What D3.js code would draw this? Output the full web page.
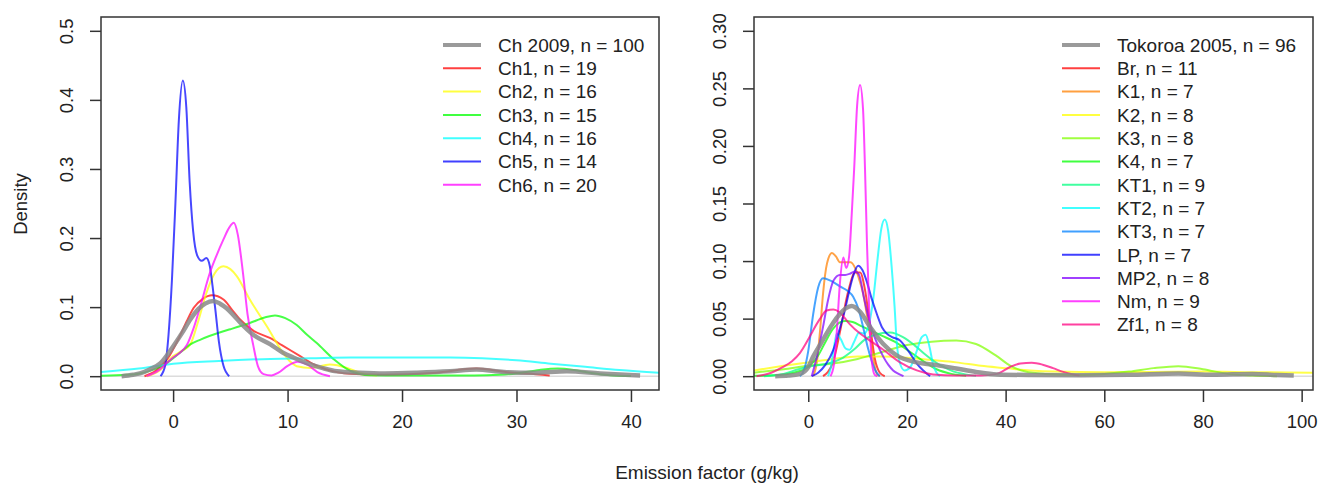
<!DOCTYPE html>
<html>
<head>
<meta charset="utf-8">
<script src="https://cdn.jsdelivr.net/npm/d3@7"></script>
<style>
  body { margin: 0; background: #fff; }
  text { font-family: "Liberation Sans", Arial, sans-serif; fill: #222; }
</style>
</head>
<body>
<script>
// density curves, [x, density]

// left panel: Ch 2009 groups
let ch2009 = [[-4.5,0],[-3.5,0.002],[-2.9,0.004],[-2,0.01],[-1.1,0.019],[0,0.043],[0.8,0.063],[1.5,0.082],[2.2,0.097],[2.8,0.105],[3.5,0.109],[4.1,0.105],[4.7,0.098],[5.3,0.088],[5.9,0.077],[7,0.06],[8.5,0.046],[9.6,0.034],[10.5,0.027],[12,0.017],[13,0.012],[14.3,0.007],[16.3,0.005],[18.5,0.004],[21.3,0.005],[24.2,0.007],[26.5,0.0097],[28.9,0.006],[31.5,0.005],[34.4,0.007],[37.3,0.004],[40.8,0.001]];
let ch1 = [[-2.5,0],[-1.5,0.008],[-0.5,0.025],[0.5,0.055],[1.2,0.08],[1.8,0.099],[2.6,0.112],[3.4,0.117],[4.4,0.111],[5.2,0.095],[5.85,0.082],[7,0.066],[8.5,0.055],[9.5,0.045],[11.1,0.029],[12.3,0.017],[13.4,0.0097],[15.5,0.0035],[18.4,0.002],[22.7,0.0045],[26.5,0.011],[29.4,0.0055],[32.3,0.002],[32.9,0.001]];
let ch2 = [[-2.3,0],[-1.2,0.008],[0,0.029],[0.8,0.037],[1.5,0.046],[2.2,0.08],[2.9,0.12],[3.6,0.148],[4.4,0.159],[5,0.155],[5.56,0.145],[6.7,0.111],[8.2,0.072],[9.6,0.034],[10.3,0.02],[10.8,0.0145],[12,0.012],[13.7,0.017],[15.2,0.012],[16.3,0.005],[17.8,0.001]];
let ch3 = [[-6.3,0.0005],[-4,0.002],[-2.9,0.004],[-1.5,0.011],[-0.55,0.019],[0.6,0.034],[1.5,0.046],[2.4,0.053],[4.4,0.065],[5,0.068],[6.7,0.077],[8,0.085],[8.9,0.088],[9.8,0.084],[10.8,0.074],[11.7,0.06],[12.55,0.048],[14,0.025],[15.5,0.0075],[17.2,0.0015],[20,0.001],[26.3,0.001],[28.5,0.002],[30,0.004],[32,0.009],[33.6,0.011],[35,0.009],[36.4,0.005],[38.2,0.0015],[40,0.0003]];
let ch4 = [[-6.3,0.006],[-3,0.011],[0,0.018],[4,0.022],[8.5,0.025],[12,0.026],[15.5,0.027],[20,0.027],[24.2,0.027],[27,0.026],[30,0.023],[33,0.018],[36,0.0135],[39,0.009],[42.5,0.005]];
let ch5 = [[-1.1,0],[-0.7,0.015],[-0.4,0.06],[-0.1,0.14],[0.2,0.25],[0.5,0.37],[0.85,0.428],[1.15,0.39],[1.45,0.28],[1.75,0.21],[2.1,0.175],[2.5,0.167],[2.9,0.171],[3.2,0.16],[3.45,0.13],[3.7,0.095],[4,0.05],[4.4,0.015],[4.9,0]];
let ch6 = [[-2.3,0],[-1.3,0.008],[-0.5,0.02],[0,0.027],[0.6,0.034],[1.2,0.045],[1.8,0.07],[2.36,0.1],[3.2,0.149],[3.8,0.175],[4.4,0.198],[4.9,0.215],[5.3,0.222],[5.65,0.205],[6.1,0.15],[6.5,0.09],[7,0.045],[7.4,0.015],[7.9,0.003],[8.6,0.001],[9.2,0.005],[10,0.015],[10.9,0.021],[11.7,0.017],[12.6,0.006],[13.7,0]];

// right panel: Tokoroa 2005 groups
let tok2005 = [[-6.7,0],[-4,0.0005],[-1.7,0.002],[0,0.008],[1,0.017],[2.5,0.028],[3.7,0.037],[5,0.046],[6.4,0.054],[7.6,0.059],[8.8,0.061],[10.5,0.056],[12.5,0.043],[15.2,0.028],[17.9,0.018],[22,0.012],[26,0.0096],[30,0.0067],[34,0.0037],[38.2,0.0015],[45,0.001],[55,0.0008],[65,0.0012],[75,0.0023],[82,0.0012],[90,0.002],[95,0.001],[98.4,0.0005]];
let br = [[3,0],[5,0.012],[6.5,0.04],[8,0.072],[9.5,0.09],[10.5,0.09],[11.5,0.075],[12.5,0.045],[13.5,0.015],[14.5,0.003],[15.5,0]];
let k1 = [[1,0],[1.8,0.014],[2.4,0.04],[3,0.072],[3.8,0.098],[4.8,0.107],[5.6,0.104],[6.4,0.099],[7.5,0.099],[8.6,0.099],[9.6,0.093],[10.4,0.083],[11.1,0.072],[12,0.05],[12.8,0.028],[13.4,0.01],[13.9,0.002],[14.5,0]];
let k2 = [[-11,0.005],[-5,0.009],[0,0.012],[5,0.015],[10,0.017],[15,0.017],[20,0.016],[25,0.014],[30,0.012],[35,0.009],[40,0.007],[45,0.005],[50,0.004],[60,0.0035],[70,0.0037],[80,0.004],[90,0.0035],[102.3,0.003]];
let k3 = [[-11,0.003],[-5,0.006],[0,0.009],[5,0.011],[10,0.015],[15,0.021],[20,0.027],[25,0.03],[30,0.031],[34,0.028],[38,0.018],[41,0.009],[44,0.004],[48,0.002],[55,0.001],[60,0.002],[65,0.004],[70,0.007],[75,0.0087],[80,0.006],[85,0.002],[90,0.0005],[95,0]];
let k4 = [[-11,0.0003],[-6,0.001],[-3,0.003],[0,0.008],[2,0.018],[3.5,0.03],[5,0.041],[6.5,0.047],[7.5,0.048],[9,0.047],[11,0.043],[12.5,0.04],[15,0.035],[17.5,0.03],[20,0.023],[23,0.014],[26,0.006],[29,0.002],[32,0.0003]];
let kt1 = [[-9,0],[-5,0.002],[-2,0.006],[1,0.009],[4,0.011],[7,0.016],[9.5,0.024],[11.5,0.032],[13.5,0.036],[16.6,0.038],[19.2,0.034],[21.5,0.027],[23.4,0.02],[25.5,0.013],[27.4,0.008],[29.5,0.004],[31.4,0.002],[34,0.0003]];
let kt2 = [[4,0],[4.6,0.008],[5.2,0.025],[5.8,0.037],[6.6,0.032],[7.6,0.024],[8.4,0.023],[9.3,0.03],[10.3,0.038],[11.3,0.037],[12.3,0.045],[13.2,0.068],[14,0.1],[14.8,0.128],[15.5,0.136],[16.2,0.126],[16.9,0.095],[17.5,0.06],[17.9,0.031],[18.6,0.011],[19.5,0.005],[20.7,0.008],[22,0.022],[23,0.034],[23.8,0.036],[24.6,0.025],[25.3,0.01],[26,0.003],[26.7,0]];
let kt3 = [[-1.7,0],[-0.8,0.006],[0,0.022],[1,0.054],[2,0.077],[3,0.085],[4.5,0.083],[6.4,0.078],[8,0.074],[9.1,0.069],[10.2,0.058],[11.1,0.043],[12,0.026],[12.8,0.014],[13.6,0.005],[14.5,0]];
let lp = [[0.7,0],[2,0.003],[3.5,0.01],[5.1,0.023],[6.3,0.04],[7.4,0.057],[8.3,0.074],[9.1,0.087],[10.1,0.096],[11,0.092],[11.8,0.083],[12.8,0.068],[13.9,0.054],[15,0.042],[15.9,0.037],[17,0.034],[18.6,0.031],[19.6,0.026],[20.6,0.02],[22,0.011],[23.3,0.005],[24.7,0]];
let mp2 = [[0.7,0],[1.8,0.018],[3,0.043],[4,0.066],[5.1,0.083],[6.4,0.088],[7.5,0.088],[8.45,0.089],[9.5,0.091],[10.3,0.088],[11.3,0.068],[12.5,0.046],[13.8,0.03],[15.2,0.017],[16.2,0.01],[17.2,0.005],[18.3,0.002],[19.3,0]];
let nm = [[4.5,0],[5.2,0.01],[5.8,0.04],[6.4,0.08],[7.1,0.103],[7.7,0.094],[8.3,0.105],[8.8,0.14],[9.3,0.18],[9.9,0.235],[10.5,0.253],[11.1,0.232],[11.5,0.18],[11.9,0.115],[12.4,0.05],[12.9,0.012],[13.5,0.001],[14,0]];
let zf1 = [[-10.5,0],[-7.5,0.003],[-5.1,0.008],[-3.3,0.013],[-1.7,0.02],[0,0.032],[1,0.04],[2.4,0.05],[3.7,0.057],[5.1,0.058],[6.2,0.056],[7.1,0.052],[8.45,0.045],[10.5,0.037],[11.8,0.033],[13.5,0.028],[15.2,0.023],[18.6,0.012],[22,0.005],[25.3,0.0015],[30,0.0005],[35,0.0005],[38.2,0.002],[40.9,0.008],[43,0.011],[45.3,0.0116],[47.5,0.01],[49.6,0.007],[51.5,0.004],[53.7,0.0015],[55,0.0005]];

let leftNames = ['Ch 2009, n = 100', 'Ch1, n = 19', 'Ch2, n = 16', 'Ch3, n = 15', 'Ch4, n = 16', 'Ch5, n = 14', 'Ch6, n = 20'];
let leftColors = ['#888888', '#ff0000', '#ffff00', '#00ff00', '#00ffff', '#0000ff', '#ff00ff'];
let leftSeries = [ch2009, ch1, ch2, ch3, ch4, ch5, ch6];

let rightNames = ['Tokoroa 2005, n = 96', 'Br, n = 11', 'K1, n = 7', 'K2, n = 8', 'K3, n = 8', 'K4, n = 7', 'KT1, n = 9', 'KT2, n = 7', 'KT3, n = 7', 'LP, n = 7', 'MP2, n = 8', 'Nm, n = 9', 'Zf1, n = 8'];
let rightColors = ['#888888', '#ff0000', '#ff8000', '#ffff00', '#80ff00', '#00ff00', '#00ff80', '#00ffff', '#0080ff', '#0000ff', '#8000ff', '#ff00ff', '#ff0080'];
let rightSeries = [tok2005, br, k1, k2, k3, k4, kt1, kt2, kt3, lp, mp2, nm, zf1];

let leftXTicks = [0, 10, 20, 30, 40];
let leftYTicks = [0, 0.1, 0.2, 0.3, 0.4, 0.5];
let rightXTicks = [0, 20, 40, 60, 80, 100];
let rightYTicks = [0, 0.05, 0.1, 0.15, 0.2, 0.25, 0.3];

let svg = d3.select('body').append('svg').attr('width', 1321).attr('height', 483);

function drawPanel(p) {
  let x = d3.scaleLinear().domain(p.xDomain).range([p.left, p.right]);
  let y = d3.scaleLinear().domain(p.yDomain).range([390, 17]);
  let g = svg.append('g');

  g.append('clipPath').attr('id', p.id)
    .append('rect').attr('x', p.left).attr('y', 17).attr('width', p.right - p.left).attr('height', 373);

  // zero line
  g.append('line')
    .attr('x1', p.left).attr('x2', p.right)
    .attr('y1', y(0)).attr('y2', y(0))
    .attr('stroke', '#dcdcdc').attr('stroke-width', 1.5);

  let line = d3.line()
    .x(d => x(d[0]))
    .y(d => y(d[1]))
    .curve(d3.curveMonotoneX);

  let curves = g.append('g').attr('clip-path', 'url(#' + p.id + ')');
  // colored groups first, the pooled grey one on top
  p.series.forEach((s, i) => {
    if (i == 0) return;
    curves.append('path').attr('d', line(s))
      .attr('fill', 'none').attr('stroke', p.colors[i])
      .attr('stroke-opacity', 0.72).attr('stroke-width', 2);
  });
  curves.append('path').attr('d', line(p.series[0]))
    .attr('fill', 'none').attr('stroke', p.colors[0])
    .attr('stroke-opacity', 0.85).attr('stroke-width', 4.5);

  // axes
  let xAxis = d3.axisBottom(x).tickValues(p.xTicks).tickSize(12).tickPadding(13);
  let gx = g.append('g').attr('transform', 'translate(0,390)').call(xAxis);
  gx.select('.domain').remove();
  gx.selectAll('line').attr('stroke', '#333').attr('stroke-width', 1.5);
  gx.selectAll('text').attr('font-size', 18.5).attr('fill', '#222');

  let yAxis = d3.axisLeft(y).tickValues(p.yTicks).tickSize(11).tickFormat(d3.format(p.yFormat));
  let gy = g.append('g').attr('transform', 'translate(' + p.left + ',0)').call(yAxis);
  gy.select('.domain').remove();
  gy.selectAll('line').attr('stroke', '#333').attr('stroke-width', 1.5);
  gy.selectAll('text')
    .attr('x', 0).attr('dy', '0.35em')
    .attr('text-anchor', 'middle')
    .attr('transform', 'translate(-34,0) rotate(-90)')
    .attr('font-size', 18.5).attr('fill', '#222');

  // frame
  g.append('rect')
    .attr('x', p.left).attr('y', 17).attr('width', p.right - p.left).attr('height', 373)
    .attr('fill', 'none').attr('stroke', '#333').attr('stroke-width', 1.5);

  // legend
  let leg = g.append('g');
  p.names.forEach((n, i) => {
    let ly = 45 + i * 23.3;
    leg.append('line')
      .attr('x1', p.legX).attr('x2', p.legX + 38)
      .attr('y1', ly).attr('y2', ly)
      .attr('stroke', p.colors[i])
      .attr('stroke-opacity', i == 0 ? 0.85 : 0.75)
      .attr('stroke-width', i == 0 ? 4 : 2);
    leg.append('text')
      .attr('x', p.legX + 55).attr('y', ly + 6.8)
      .attr('font-size', 19)
      .text(n);
  });
}

drawPanel({
  id: 'clipL', left: 101, right: 659,
  xDomain: [-6.3, 42.45], yDomain: [-0.02, 0.52],
  xTicks: leftXTicks, yTicks: leftYTicks, yFormat: '.1f',
  series: leftSeries, colors: leftColors, names: leftNames, legX: 443
});

drawPanel({
  id: 'clipR', left: 754, right: 1313,
  xDomain: [-11, 102.3], yDomain: [-0.012, 0.312],
  xTicks: rightXTicks, yTicks: rightYTicks, yFormat: '.2f',
  series: rightSeries, colors: rightColors, names: rightNames, legX: 1062
});

svg.append('text')
  .attr('transform', 'translate(27,204) rotate(-90)')
  .attr('text-anchor', 'middle')
  .attr('font-size', 18.5)
  .text('Density');

svg.append('text')
  .attr('x', 707).attr('y', 479)
  .attr('text-anchor', 'middle')
  .attr('font-size', 19)
  .text('Emission factor (g/kg)');
</script>
</body>
</html>
